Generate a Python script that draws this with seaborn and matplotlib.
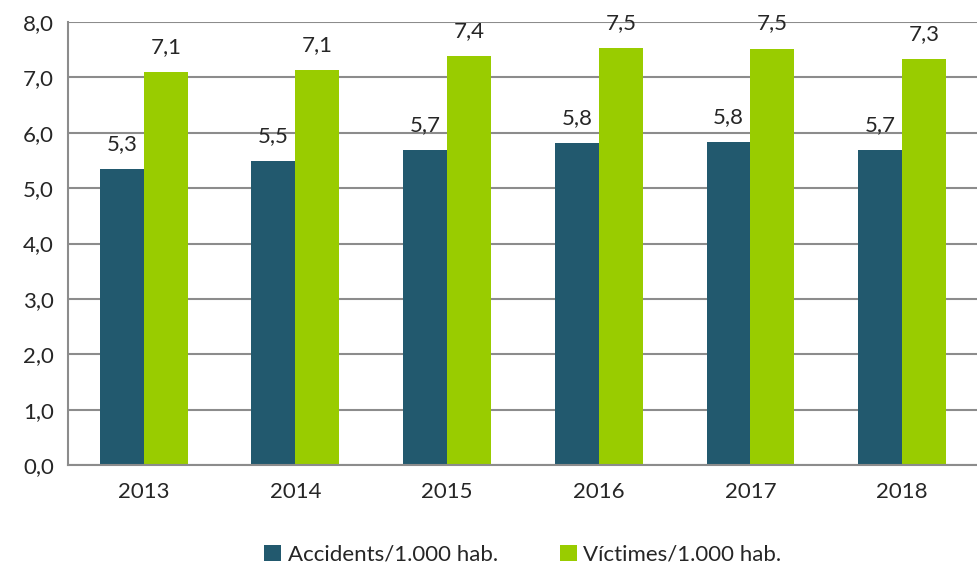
import pandas as pd
import seaborn as sns
import matplotlib.pyplot as plt
import numpy as np

# Data
years = ["2013", "2014", "2015", "2016", "2017", "2018"]
accidents = [5.34, 5.49, 5.69, 5.81, 5.83, 5.69]
victimes = [7.09, 7.13, 7.38, 7.53, 7.52, 7.33]
series = ["Accidents/1.000 hab.", "Víctimes/1.000 hab."]
colors = ["#22596E", "#99CC00"]

df = pd.DataFrame({
    "year": years * 2,
    "value": accidents + victimes,
    "serie": [series[0]] * len(years) + [series[1]] * len(years),
})

sns.set_style("white")
plt.rcParams["font.family"] = ["Lato", "DejaVu Sans"]
grid_gray = "#8C8C8C"

fig = plt.figure(figsize=(9.78, 5.72), dpi=100)
ax = fig.add_axes([0.0695, 0.187, 0.9305, 0.7745])

sns.barplot(data=df, x="year", y="value", hue="serie", palette=colors,
            width=0.58, saturation=1, linewidth=0, ax=ax, legend=True)

# value labels, comma decimal
for cont in ax.containers:
    for bar in cont:
        h = bar.get_height()
        ax.annotate(f"{h:.1f}".replace(".", ","),
                    (bar.get_x() + bar.get_width() / 2, h),
                    xytext=(0, 11), textcoords="offset points",
                    ha="center", va="bottom", fontsize=16)

ax.set_ylim(0, 8)
ax.set_xlim(-0.5, 5.5)
ax.set_yticks(np.arange(0, 9, 1))
ax.set_yticklabels([f"{v:.1f}".replace(".", ",") for v in range(0, 9)])
ax.yaxis.grid(True, color=grid_gray, linewidth=1.5)
ax.set_axisbelow(True)

ax.set_xticks(range(len(years)))
ax.set_xticks(np.arange(-0.5, 6, 1), minor=True)
ax.tick_params(axis="x", which="major", length=0, pad=12, labelsize=16)
ax.tick_params(axis="x", which="minor", length=7, width=1.5, color=grid_gray)
ax.tick_params(axis="y", length=7, width=1.5, color=grid_gray, labelsize=16, pad=3)
ax.set_xlabel("")
ax.set_ylabel("")

for s in ["top", "right"]:
    ax.spines[s].set_visible(False)
for s in ["left", "bottom"]:
    ax.spines[s].set_color(grid_gray)
    ax.spines[s].set_linewidth(1.5)

ax.legend(loc="upper center", bbox_to_anchor=(0.5, -0.135), ncol=2, frameon=False,
          fontsize=16, handlelength=0.75, handleheight=0.75, handletextpad=0.3,
          columnspacing=2.8)

fig.savefig("out.png", dpi=100)
